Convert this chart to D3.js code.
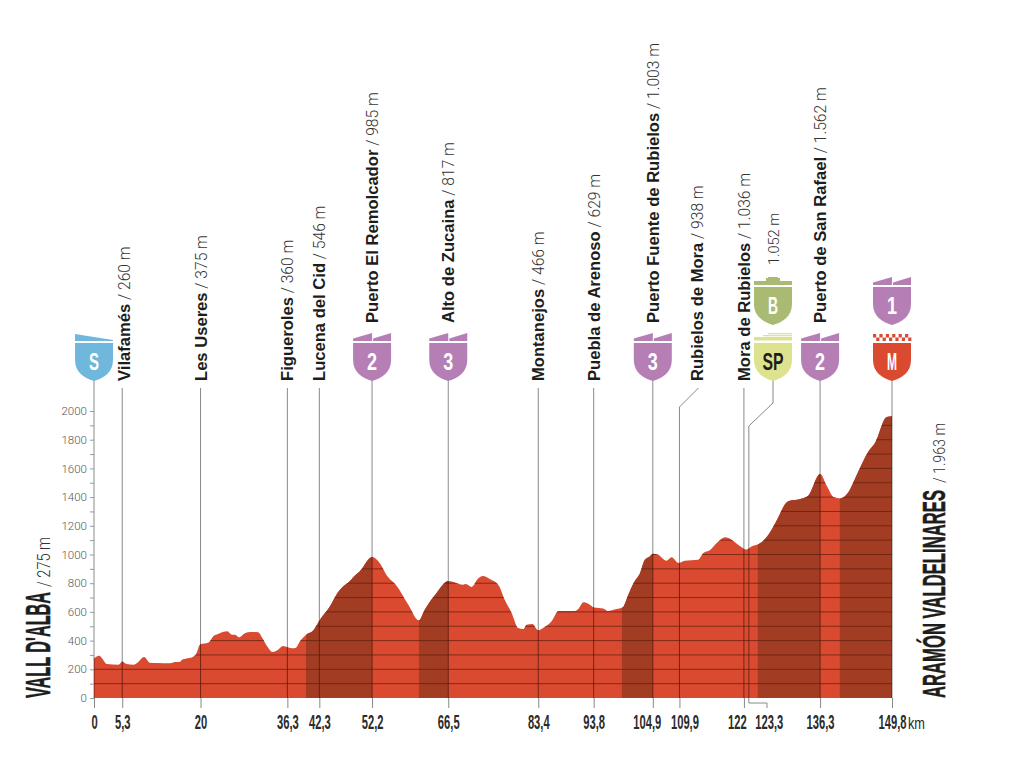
<!DOCTYPE html>
<meta charset="utf-8">
<style>
html, body { margin: 0; background: #fff; }
svg { display: block; }
.name { font: bold 16.6px "Liberation Sans", Arial, sans-serif; fill: #1d1d1b; }
.alt { font: 300 15.6px Roboto, "Liberation Sans", sans-serif; fill: #333; }
.narrow { font-family: "Liberation Sans", sans-serif; }
.y-axis text { font: 300 11.5px Roboto, sans-serif; fill: #555; }
.y-axis line { stroke: #999; }
.x-axis text { font: bold 20px "Liberation Sans", sans-serif; fill: #2b2b2b; }
.x-axis line { stroke: #888; }
.grid { stroke: #5d1c0c; stroke-opacity: .7; stroke-width: 1; }
.leader { fill: none; stroke: #8a8a8a; stroke-width: 1; }
.leader-dark { fill: none; stroke: #4a1608; stroke-opacity: .7; stroke-width: 1; }
</style>
<body>
<script src="https://d3js.org/d3.v7.min.js"></script>
<script>

var width = 1024,
    height = 768;

// profile, km and metres
var profileKm = [0,1,1.6,2.4,4.6,5.3,6.1,7.4,8.1,9.4,10.5,11.8,14.3,15.2,16.2,16.5,17.4,18.3,19.2,19.9,21.5,22.4,23.4,25,25.9,26.5,27.2,28.4,29.4,30.8,31.6,32.5,33.5,34.4,35.5,36.4,37.2,37.8,38.8,40,41,42.5,44.3,45.5,46.8,48,48.7,49.9,52.2,53.4,55.2,56.8,59,61,62.1,64.3,66.5,68.4,69.3,69.8,70.9,72.1,73,74.3,76,77.1,78.4,79.6,80.6,81.2,82.3,83.4,84.3,85.9,87.2,90.3,90.9,91.9,92.8,93.9,95.6,96.4,98.1,99.2,100.3,101.3,102.5,103.4,104.2,105,105.9,107.5,108.4,109.7,110.9,113.4,114.4,115.6,116.9,118.5,119.7,121.3,122.4,123.5,125.1,126.6,127.9,130.3,132.9,134.1,136.3,137.6,138.8,140.1,141.6,143.2,145.4,146.6,148.8,149.8];
var profileElev = [276,295,272,237,232,255,237,232,244,286,246,244,242,251,253,267,276,283,309,372,386,430,448,465,441,441,423,453,460,458,418,360,320,332,362,353,346,348,402,446,465,551,639,720,778,813,843,883,983,952,843,783,650,541,616,732,815,797,790,794,774,832,850,829,783,685,592,488,481,511,516,472,488,534,606,606,620,667,657,630,623,606,620,630,720,801,871,964,983,1006,999,957,980,941,957,964,1011,1029,1080,1120,1103,1057,1034,1057,1080,1138,1220,1371,1391,1412,1561,1475,1401,1391,1433,1556,1719,1777,1958,1963];

// climbs shaded darker
var climbStart = [39.8, 61, 99.1, 124.6, 140];
var climbEnd = [52.2, 66.5, 104.9, 136.3, 149.8];

var tickKm = [0,5.3,20,36.3,42.3,52.2,66.5,83.4,93.8,104.9,109.9,122,123.3,136.3,149.8];
var tickLabels = ["0","5,3","20","36,3","42,3","52,2","66,5","83,4","93,8","104,9","109,9","122","123,3","136,3","149,8"];

var passKm = [5.3,20,36.3,42.3,52.2,66.5,83.4,93.8,104.9,109.9,122,136.3];
var passNames = ["Vilafamés","Les Useres","Figueroles","Lucena del Cid","Puerto El Remolcador","Alto de Zucaina","Montanejos","Puebla de Arenoso","Puerto Fuente de Rubielos","Rubielos de Mora","Mora de Rubielos","Puerto de San Rafael"];
var passAlts = ["260 m","375 m","360 m","546 m","985 m","817 m","466 m","629 m","1.003 m","938 m","1.036 m","1.562 m"];

var badgeKm = [0,52.2,66.5,104.9,123.3,123.3,136.3,149.8,149.8];
var badgeText = ["S","2","3","3","SP","B","2","M","1"];

var x = d3.scaleLinear().domain([0, 149.8]).range([94, 892]);
var y = d3.scaleLinear().domain([0, 2000]).range([698, 411]);

var svg = d3.select("body").append("svg")
    .attr("width", width)
    .attr("height", height);

var profile = d3.zip(profileKm, profileElev);
var area = d3.area()
    .curve(d3.curveMonotoneX)
    .x(function(d) { return x(d[0]); })
    .y0(y(0))
    .y1(function(d) { return y(d[1]); });

svg.append("clipPath").attr("id", "profile-clip")
  .append("path").attr("d", area(profile));

// leaders first, the profile goes over them
var straight = passKm.filter(function(d) { return d !== 109.9; }).concat([0, 149.8]);
var hasBadge = function(km) { return badgeKm.indexOf(km) >= 0; };

svg.selectAll(".stem").data(straight).enter().append("line")
    .attr("class", "leader")
    .attr("x1", x).attr("x2", x)
    .attr("y1", function(d) { return hasBadge(d) ? 380 : 388; })
    .attr("y2", y(0));

// the two leaders that bend away from their label
svg.append("path").attr("class", "leader")
    .attr("d", "M" + (x(109.9) + 19) + ",388L" + x(109.9) + ",407V" + y(0));
svg.append("path").attr("class", "leader")
    .attr("d", "M773,380V403L" + (x(123.3) - 2) + ",426V703H767V708");

svg.append("path")
    .attr("d", area(profile))
    .attr("fill", "#d94a30");

var inside = svg.append("g").attr("clip-path", "url(#profile-clip)");

inside.selectAll(".climb").data(climbStart).enter().append("rect")
    .attr("x", x)
    .attr("width", function(d, i) { return x(climbEnd[i]) - x(d); })
    .attr("y", y(2000))
    .attr("height", y(0) - y(2000))
    .attr("fill", "#a23d23");

inside.selectAll(".grid").data(d3.range(100, 2001, 100)).enter().append("line")
    .attr("class", "grid")
    .attr("x1", x(0)).attr("x2", x(149.8))
    .attr("y1", y).attr("y2", y);

inside.selectAll(".stem-dark").data(straight.concat([109.9])).enter().append("line")
    .attr("class", "leader-dark")
    .attr("x1", x).attr("x2", x)
    .attr("y1", y(2000)).attr("y2", y(0));
inside.append("line").attr("class", "leader-dark")
    .attr("x1", x(123.3) - 2).attr("x2", x(123.3) - 2)
    .attr("y1", y(2000)).attr("y2", y(0));

// axes
var yAxis = svg.append("g").attr("class", "y-axis")
    .attr("transform", "translate(" + x(0) + ",0)")
    .call(d3.axisLeft(y)
      .tickValues(d3.range(0, 2001, 100))
      .tickSize(4)
      .tickPadding(3)
      .tickFormat(function(d) { return d % 200 ? "" : d; }));
yAxis.select(".domain").remove();

var xAxis = svg.append("g").attr("class", "x-axis")
    .attr("transform", "translate(0," + y(0) + ")")
    .call(d3.axisBottom(x)
      .tickValues(tickKm)
      .tickSize(10)
      .tickPadding(7)
      .tickFormat(function(d, i) { return tickLabels[i]; }));
xAxis.select(".domain").remove();

// crowded labels are nudged sideways off their tick
var nudge = {104.9: -6, 109.9: 5, 122: -7, 123.3: 18};
xAxis.selectAll(".tick text").attr("x", function(d) { return nudge[d] || 0; });
xAxis.selectAll(".tick").filter(function(d) { return d === 123.3; }).select("line").remove();

// no condensed face installed, pull the glyphs in
function squeeze(sel, k) {
  sel.each(function() {
    this.setAttribute("lengthAdjust", "spacingAndGlyphs");
    this.setAttribute("textLength", this.getComputedTextLength() * k);
  });
}
squeeze(xAxis.selectAll("text"), 0.56);

svg.append("text")
    .attr("class", "narrow")
    .attr("x", 908)
    .attr("y", 729)
    .attr("fill", "#2b2b2b")
    .attr("font-size", 17)
    .attr("textLength", 17)
    .attr("lengthAdjust", "spacingAndGlyphs")
    .text("km");

// pass labels
var labels = svg.selectAll(".pass").data(passKm).enter().append("text")
    .attr("class", "pass")
    .attr("transform", function(d) {
      var dx = d === 5.3 ? 8 : d === 109.9 ? 24 : 6;
      return "translate(" + (x(d) + dx) + "," + (hasBadge(d) ? 323 : 381) + ")rotate(-90)";
    });
labels.append("tspan").attr("class", "name")
    .text(function(d, i) { return passNames[i]; });
labels.append("tspan").attr("class", "alt")
    .text(function(d, i) { return " / " + passAlts[i]; });

svg.append("text").attr("class", "alt")
    .attr("transform", "translate(779,265)rotate(-90)")
    .style("font-size", "14.5px")
    .text("1.052 m");

// start and finish names
function endName(px, bottom, name, nameSize, nameLen, alt, altSize, altLen, altGap) {
  var g = svg.append("g").attr("transform", "translate(" + px + "," + bottom + ")rotate(-90)");
  g.append("text").attr("class", "narrow")
      .attr("font-weight", "bold").attr("font-size", nameSize)
      .attr("fill", "#1d1d1b").attr("stroke", "#1d1d1b").attr("stroke-width", .5)
      .attr("textLength", nameLen).attr("lengthAdjust", "spacingAndGlyphs")
      .text(name);
  g.append("text")
      .attr("x", nameLen + altGap)
      .attr("font-family", "Roboto, sans-serif").attr("font-weight", 300)
      .attr("font-size", altSize).attr("fill", "#333")
      .attr("textLength", altLen).attr("lengthAdjust", "spacingAndGlyphs")
      .text(alt);
}
endName(50, 698, "VALL D'ALBA", 35, 106, "/ 275 m", 19, 50, 5);
endName(945, 698, "ARAMÓN VALDELINARES", 32, 208, "/ 1.963 m", 16, 60, 7);

// badges
var kinds = {
  "S": {fill: "#6fb7dd", ink: "#fff", flag: "start"},
  "2": {fill: "#b57fb6", ink: "#fff", flag: "peak"},
  "3": {fill: "#b57fb6", ink: "#fff", flag: "peak"},
  "1": {fill: "#b57fb6", ink: "#fff", flag: "peak"},
  "SP": {fill: "#dde28f", ink: "#1d1d1b", flag: "sprint"},
  "B": {fill: "#a9bb72", ink: "#fff", flag: "bonus"},
  "M": {fill: "#d94a30", ink: "#fff", flag: "finish"}
};
var bodyPath = "M-19,0H19V17C19,29 10,35 0,38C-10,35 -19,29 -19,17Z";

var badges = svg.selectAll(".badge").data(badgeKm).enter().append("g")
    .attr("class", "badge")
    .attr("transform", function(d, i) {
      var t = badgeText[i],
          cx = d === 123.3 ? 773 : x(d),
          top = (t === "B" || t === "1") ? 287 : 343;
      return "translate(" + cx + "," + top + ")";
    });

badges.append("path")
    .attr("d", bodyPath)
    .attr("fill", function(d, i) { return kinds[badgeText[i]].fill; });

badges.each(function(d, i) {
  var k = kinds[badgeText[i]], g = d3.select(this);
  if (k.flag === "start") {
    g.append("path").attr("d", "M-19,-9L19,-3L19,-2L-19,-2Z").attr("fill", k.fill);
  } else if (k.flag === "peak") {
    g.append("path").attr("d", "M-19,-4.5L0,-10V-2H-19ZM1,-4.5L19,-10V-2H1Z").attr("fill", k.fill);
  } else if (k.flag === "bonus") {
    g.append("path").attr("d", "M-19,-6H-7V-9H-5V-10H5V-9H7V-6H19V-2H-19Z").attr("fill", k.fill);
  } else if (k.flag === "sprint") {
    g.append("path").attr("d", "M-19,-6H19V-2.5H-19ZM-10,-8H19V-6.8H-10ZM-5,-10H19V-8.8H-5Z").attr("fill", k.fill);
  } else if (k.flag === "finish") {
    d3.range(0, 6).forEach(function(n) {
      g.append("rect").attr("x", -19 + n * 6.4).attr("y", -9).attr("width", 3.2).attr("height", 3.5).attr("fill", k.fill);
      g.append("rect").attr("x", -15.8 + n * 6.4).attr("y", -5.5).attr("width", 3.2).attr("height", 3.5).attr("fill", k.fill);
    });
  }
});

badges.append("text")
    .attr("class", "narrow")
    .attr("text-anchor", "middle")
    .attr("y", 27)
    .attr("font-size", 24)
    .attr("font-weight", "bold")
    .attr("fill", function(d, i) { return kinds[badgeText[i]].ink; })
    .attr("textLength", function(d, i) { return badgeText[i].length > 1 ? 21 : 10; })
    .attr("lengthAdjust", "spacingAndGlyphs")
    .text(function(d, i) { return badgeText[i]; });

</script>
</body>
